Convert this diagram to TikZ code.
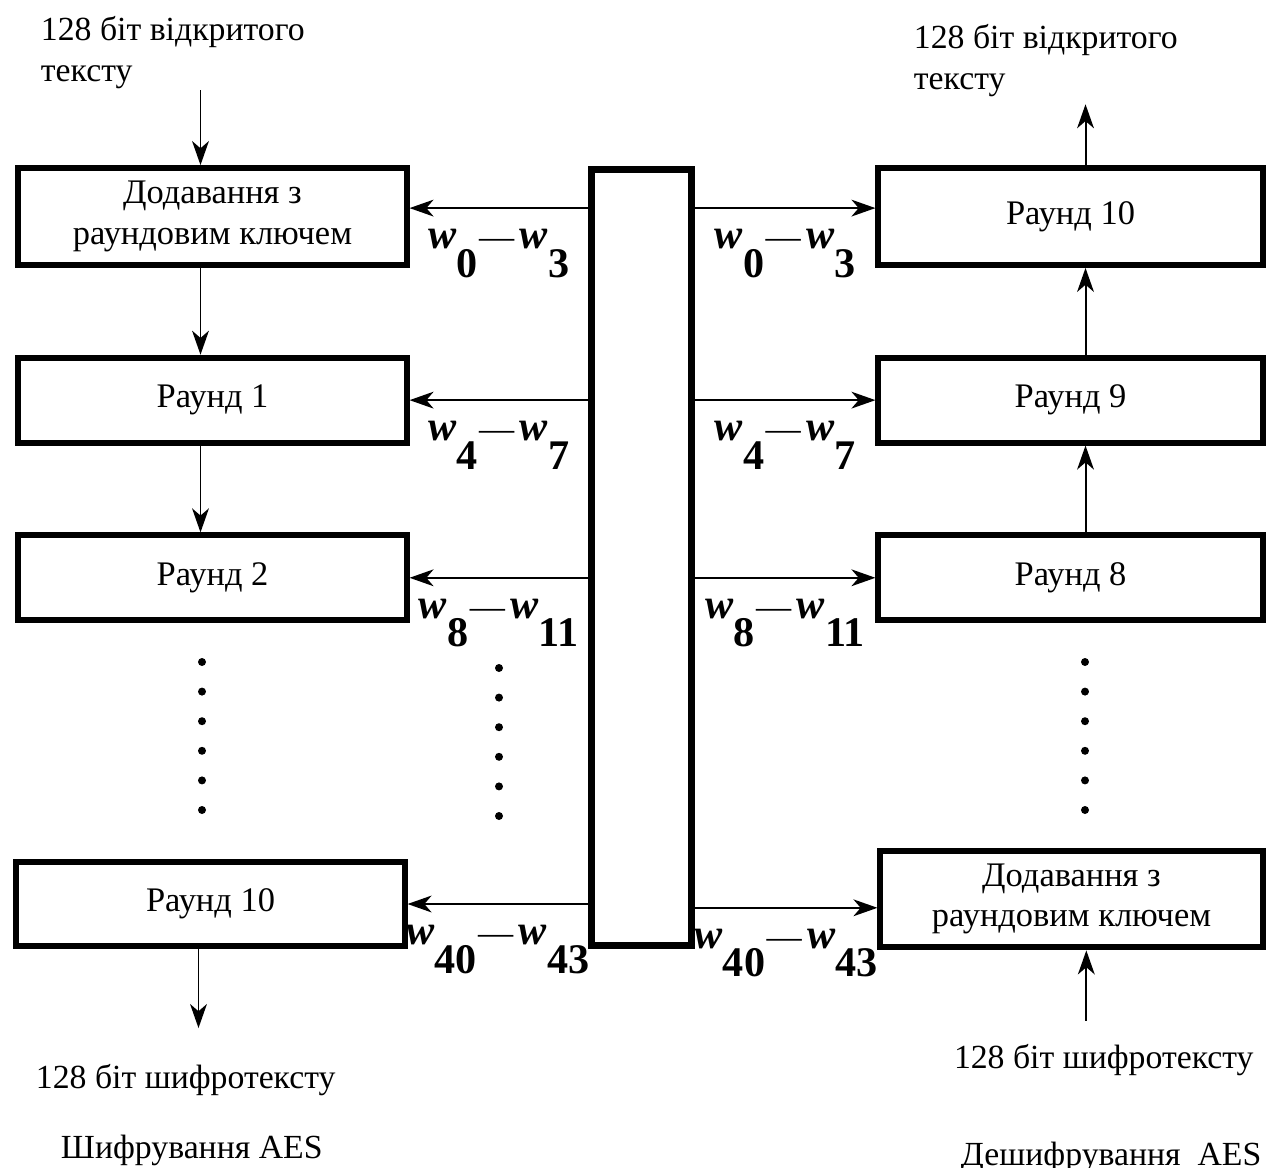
\documentclass[tikz,border=0pt]{standalone}
\usepackage{fontspec}
\setmainfont{Liberation Serif}
\usetikzlibrary{positioning,arrows.meta}

\newcommand{\wkeys}[2]{\textit{w}\raisebox{-.68em}{#1}\kern1pt{\mdseries\fontsize{25}{28}\selectfont—}\kern4pt\textit{w}\raisebox{-.68em}{#2}}

\begin{document}
\begin{tikzpicture}[x=0.025cm,y=-0.025cm,node distance=2.17cm,
      font=\fontsize{24}{29.5}\selectfont,line width=1.4pt,
      box/.style={draw,line width=0.15cm,minimum width=9.7cm,minimum height=2.12cm,align=center,inner sep=0,
        font=\fontsize{24.5}{29}\selectfont},
      addbox/.style={box,minimum height=2.42cm},
      rbox/.style={minimum width=9.6cm},
      keybox/.style={draw,line width=0.17cm,minimum width=2.5cm,minimum height=19.4cm},
      txt/.style={inner sep=0,align=left,anchor=base west},
      wlab/.style={inner sep=0,font=\fontsize{30}{32}\selectfont\bfseries,below=5mm},
      >={Stealth[length=6mm,width=4.2mm,inset=1.8mm]}]
      \useasboundingbox (0,0) rectangle (1267,1168);
      \node[addbox] (add1) at (212.5,216.5) {Додавання з\\раундовим ключем};
      \node[box, below=of add1] (rnd1) {Раунд 1};
      \node[box, below=of rnd1] (rnd2) {Раунд 2};
      \node[box] (rnd10) at (210.5,904) {Раунд 10};
      \node[keybox] (key) at (641.5,557.5) {};
      \node[addbox, rbox] (dr10) at (1070.5,216.5) {Раунд 10};
      \node[box, rbox, below=of dr10] (dr9) {Раунд 9};
      \node[box, rbox, below=of dr9] (dr8) {Раунд 8};
      \node[addbox, minimum width=9.55cm] (dadd) at (1071.5,899) {Додавання з\\раундовим ключем};
      \node[txt] (inL) at (40,82) {128 біт відкритого\\тексту};
      \node[txt] (outL) at (35,1088) {128 біт шифротексту};
      \node[txt] (encL) at (60,1158) {Шифрування AES};
      \node[txt] (inR) at (913,90) {128 біт відкритого\\тексту};
      \node[txt] (outR) at (953,1068) {128 біт шифротексту};
      \node[txt] (decR) at (960,1165) {Дешифрування~ AES};
      \draw[->] ([xshift=-3mm]add1.north |- inL.south) -- ([xshift=-3mm]add1.north);
      \draw[->] ([xshift=-3mm]add1.south) -- ([xshift=-3mm]add1.south |- rnd1.north);
      \draw[->] ([xshift=-3mm]rnd1.south) -- ([xshift=-3mm]rnd1.south |- rnd2.north);
      \draw[->, shorten >=8.7mm] ([xshift=-3mm]rnd10.south) -- ([xshift=-3mm]rnd10.south |- outL.north);
      \draw[->, shorten <=5.5mm] ([xshift=3.7mm]dadd.south |- outR.north) -- ([xshift=3.7mm]dadd.south);
      \draw[->] ([xshift=3.75mm]dr8.north) -- ([xshift=3.75mm]dr8.north |- dr9.south);
      \draw[->] ([xshift=3.75mm]dr9.north) -- ([xshift=3.75mm]dr9.north |- dr10.south);
      \draw[->, shorten >=1.5mm] ([xshift=3.75mm]dr10.north) -- ([xshift=3.75mm]dr10.north |- inR.south);
      \draw[->] ([yshift=2.1mm]key.west |- add1.east) -- node[wlab]{\wkeys{0}{3}} ([yshift=2.1mm]add1.east);
      \draw[->] (key.west |- rnd1.east) -- node[wlab]{\wkeys{4}{7}} (rnd1.east);
      \draw[->] (key.west |- rnd2.east) -- node[wlab]{\wkeys{8}{11}} (rnd2.east);
      \draw[->] (key.west |- rnd10.east) -- node[wlab]{\wkeys{40}{43}} (rnd10.east);
      \draw[->] ([yshift=2.1mm]key.east |- dr10.west) -- node[wlab]{\wkeys{0}{3}} ([yshift=2.1mm]dr10.west);
      \draw[->] (key.east |- dr9.west) -- node[wlab]{\wkeys{4}{7}} (dr9.west);
      \draw[->] (key.east |- dr8.west) -- node[wlab]{\wkeys{8}{11}} (dr8.west);
      \draw[->] ([yshift=-2.2mm]key.east |- dadd.west) -- node[wlab]{\wkeys{40}{43}} ([yshift=-2.2mm]dadd.west);
      \foreach \i in {0,...,5} {
        \fill (202,662+29.6*\i) circle (1mm);
        \fill (499,668+29.6*\i) circle (1mm);
        \fill (1085,662+29.6*\i) circle (1mm);
      }
    \end{tikzpicture}
\end{document}
